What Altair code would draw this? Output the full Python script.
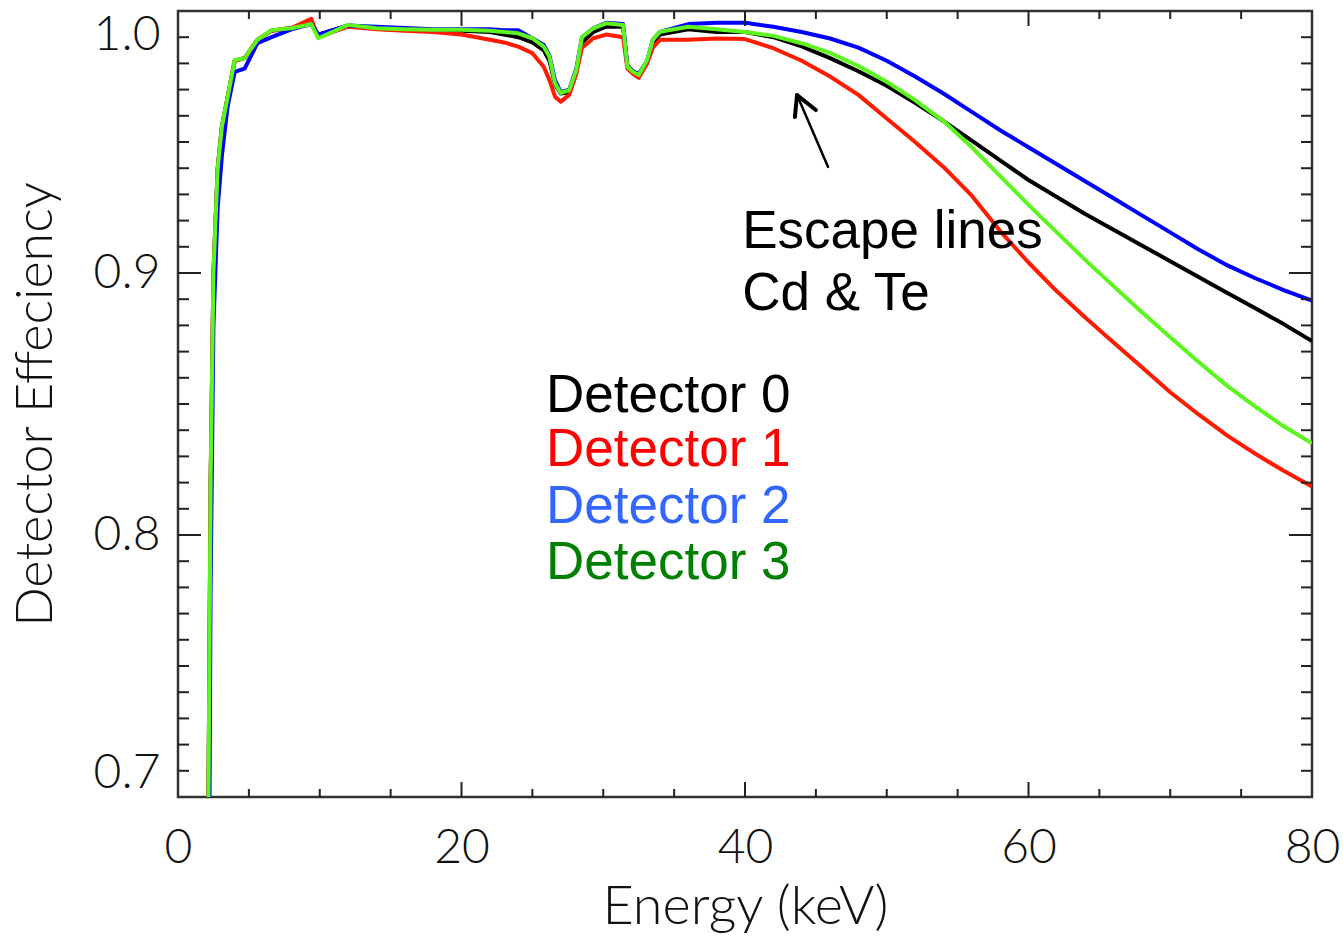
import altair as alt
import pandas as pd

# ---------------- data ----------------
energy = [2.15, 2.3, 2.5, 2.8, 3.1, 3.5, 4.0, 4.7, 5.6, 6.6, 8, 9.4, 9.9, 12, 14, 16, 18, 20,
          22, 23, 24, 25, 25.8, 26.2, 26.6, 27.0, 27.6, 28.1, 28.5, 29.3, 30.2, 31.4, 31.7,
          32.1, 32.5, 33.1, 33.5, 34.0, 36, 38, 40, 42, 44, 46, 48, 50, 52, 54, 56, 58, 60,
          62, 64, 66, 68, 70, 72, 74, 76, 78, 80]

det0 = [0.70, 0.82, 0.90, 0.94, 0.956, 0.967, 0.981, 0.982, 0.989, 0.9925, 0.9935, 0.995, 0.991,
        0.9945, 0.9935, 0.993, 0.9925, 0.9925, 0.992, 0.991, 0.990, 0.988, 0.985, 0.981, 0.972,
        0.9685, 0.969, 0.977, 0.988, 0.992, 0.994, 0.994, 0.979, 0.977, 0.9755, 0.981, 0.988,
        0.991, 0.993, 0.992, 0.992, 0.990, 0.9865, 0.982, 0.977, 0.9715, 0.965, 0.958, 0.9505,
        0.943, 0.9355, 0.929, 0.9225, 0.9165, 0.9105, 0.9045, 0.8985, 0.8925, 0.8865, 0.8805, 0.874]

det1 = [0.70, 0.82, 0.90, 0.94, 0.956, 0.967, 0.981, 0.982, 0.989, 0.9925, 0.9935, 0.997, 0.990,
        0.994, 0.993, 0.9925, 0.992, 0.991, 0.989, 0.988, 0.9864, 0.9839, 0.9787, 0.9737, 0.9673,
        0.9654, 0.968, 0.976, 0.986, 0.9896, 0.991, 0.990, 0.978, 0.976, 0.9745, 0.980, 0.986,
        0.989, 0.989, 0.9895, 0.9893, 0.9858, 0.981, 0.975, 0.968, 0.959, 0.950, 0.9405, 0.9295,
        0.916, 0.904, 0.893, 0.883, 0.8735, 0.864, 0.8545, 0.846, 0.838, 0.831, 0.8245, 0.8185]

det2 = [0.62, 0.78, 0.88, 0.925, 0.945, 0.9635, 0.9768, 0.978, 0.9877, 0.990, 0.993, 0.995, 0.991,
        0.9945, 0.994, 0.9935, 0.993, 0.993, 0.993, 0.9927, 0.9927, 0.9896, 0.987, 0.983, 0.9735,
        0.969, 0.970, 0.978, 0.990, 0.9934, 0.9955, 0.995, 0.979, 0.977, 0.976, 0.981, 0.989,
        0.992, 0.995, 0.9955, 0.9955, 0.994, 0.992, 0.9895, 0.986, 0.981, 0.975, 0.9685, 0.9615,
        0.9545, 0.948, 0.9415, 0.935, 0.9285, 0.922, 0.9155, 0.909, 0.903, 0.898, 0.8935, 0.8895]

det3 = [0.70, 0.82, 0.90, 0.94, 0.956, 0.967, 0.9813, 0.982, 0.989, 0.9927, 0.9934, 0.995, 0.9896,
        0.9947, 0.9934, 0.993, 0.9928, 0.9928, 0.9925, 0.992, 0.9915, 0.9896, 0.9864, 0.9826, 0.9724,
        0.9687, 0.9698, 0.9775, 0.990, 0.9934, 0.9953, 0.9947, 0.9787, 0.9768, 0.9756, 0.9813, 0.989,
        0.9921, 0.994, 0.993, 0.992, 0.9905, 0.9877, 0.984, 0.979, 0.973, 0.966, 0.958, 0.948,
        0.937, 0.926, 0.9155, 0.905, 0.895, 0.885, 0.8755, 0.866, 0.857, 0.849, 0.8415, 0.835]

detectors = ["Detector 0", "Detector 1", "Detector 2", "Detector 3"]
line_colors = ["#000000", "#ff1a00", "#0000ff", "#5cf51e"]
label_colors = ["#000000", "#ff0000", "#3366ff", "#008000"]
series = [det0, det1, det2, det3]

x_major = [0, 20, 40, 60, 80]
x_minor = [5, 10, 15, 25, 30, 35, 45, 50, 55, 65, 70, 75]
y_major = [0.7, 0.8, 0.9, 1.0]
y_minor = [round(0.7 + 0.01 * i, 2) for i in range(1, 30) if i % 10 != 0]

# annotation text / arrow (data coordinates)
legend_x = [25.96, 25.96, 25.96, 25.96]
legend_y = [0.8469, 0.8263, 0.8046, 0.7832]
note_text = ["Escape lines", "Cd & Te"]
note_x = [39.8, 39.8]
note_y = [0.9095, 0.8859]
arrow_x1 = [45.86, 43.67, 43.67]
arrow_y1 = [0.9405, 0.9679, 0.9679]
arrow_x2 = [43.67, 45.0, 43.52]
arrow_y2 = [0.9679, 0.9622, 0.9595]
arrow_w = [2.5, 4, 4]

# ---------------- tables ----------------
rows = []
for name, vals in zip(detectors, series):
    for e, v in zip(energy, vals):
        rows.append({"energy": e, "eff": v, "detector": name})
df = pd.DataFrame(rows)

W, H = 1134, 786
FONT = "Lato"
xscale = alt.Scale(domain=[0, 80], nice=False, zero=False)
yscale = alt.Scale(domain=[0.7, 1.0], nice=False, zero=False)

XAXIS = alt.Axis(values=x_major, format="d", title="Energy (keV)", ticks=False, tickSize=0,
                 domain=False, grid=False, labelFlush=False, labelFontSize=48,
                 labelFont=FONT, labelFontWeight=300, labelColor="#111", labelPadding=27,
                 titleFont=FONT, titleFontWeight=300, titleFontSize=54, titleColor="#111",
                 titlePadding=8)
YAXIS = alt.Axis(values=y_major, format=".1f", title="Detector Effeciency", ticks=False,
                 tickSize=0, domain=False, grid=False, labelFlush=True, labelFontSize=48,
                 labelFont=FONT, labelFontWeight=300, labelColor="#111", labelPadding=18,
                 titleFont=FONT, titleFontWeight=300, titleFontSize=52, titleColor="#111",
                 titlePadding=31)


def X(field):
    return alt.X(field, scale=xscale, axis=XAXIS)


def Y(field):
    return alt.Y(field, scale=yscale, axis=YAXIS)


lines = alt.Chart(df).mark_line(strokeWidth=4, clip=True, strokeJoin="round").encode(
    x=X("energy:Q"),
    y=Y("eff:Q"),
    color=alt.Color("detector:N", scale=alt.Scale(domain=detectors, range=line_colors), legend=None),
)

tick_color = "#222"
xmaj = pd.DataFrame({"t": x_major[1:-1]})
xmin = pd.DataFrame({"t": x_minor})
ymaj = pd.DataFrame({"t": y_major[1:-1]})
ymin = pd.DataFrame({"t": y_minor})


def xticks(d, length):
    bottom = alt.Chart(d).mark_rule(color=tick_color, strokeWidth=2).encode(
        x=X("t:Q"), y=alt.value(H), y2=alt.value(H - length))
    top = alt.Chart(d).mark_rule(color=tick_color, strokeWidth=2).encode(
        x=X("t:Q"), y=alt.value(0), y2=alt.value(length))
    return [bottom, top]


def yticks(d, length):
    left = alt.Chart(d).mark_rule(color=tick_color, strokeWidth=2).encode(
        y=Y("t:Q"), x=alt.value(0), x2=alt.value(length))
    right = alt.Chart(d).mark_rule(color=tick_color, strokeWidth=2).encode(
        y=Y("t:Q"), x=alt.value(W), x2=alt.value(W - length))
    return [left, right]


tick_layers = xticks(xmaj, 15) + xticks(xmin, 8) + yticks(ymaj, 23) + yticks(ymin, 11)

legend_layers = []
for lab, lx, ly, lc in zip(detectors, legend_x, legend_y, label_colors):
    legend_layers.append(
        alt.Chart(pd.DataFrame({"label": [lab], "x": [lx], "y": [ly]})).mark_text(
            align="left", baseline="alphabetic", fontSize=53, font="Liberation Sans", color=lc
        ).encode(x=X("x:Q"), y=Y("y:Q"), text="label:N"))

note_df = pd.DataFrame({"label": note_text, "x": note_x, "y": note_y})
notes = alt.Chart(note_df).mark_text(
    align="left", baseline="alphabetic", fontSize=53, font="Liberation Sans", color="#000"
).encode(x=X("x:Q"), y=Y("y:Q"), text="label:N")

arrow_df = pd.DataFrame({"x1": arrow_x1, "y1": arrow_y1, "x2": arrow_x2, "y2": arrow_y2, "w": arrow_w})
arrow = alt.Chart(arrow_df).mark_rule(color="#000", strokeCap="round").encode(
    x=X("x1:Q"), x2="x2:Q",
    y=Y("y1:Q"), y2="y2:Q",
    strokeWidth=alt.StrokeWidth("w:Q", scale=None, legend=None),
)

chart = alt.layer(lines, *tick_layers, *legend_layers, notes, arrow).properties(
    width=W, height=H,
    autosize=alt.AutoSizeParams(type="none"),
    padding={"left": 178, "top": 11, "right": 31, "bottom": 140},
    background="white",
).configure_view(stroke="#333", strokeWidth=2.5)

chart.save("out.html", embed_options={"renderer": "svg", "actions": False})
